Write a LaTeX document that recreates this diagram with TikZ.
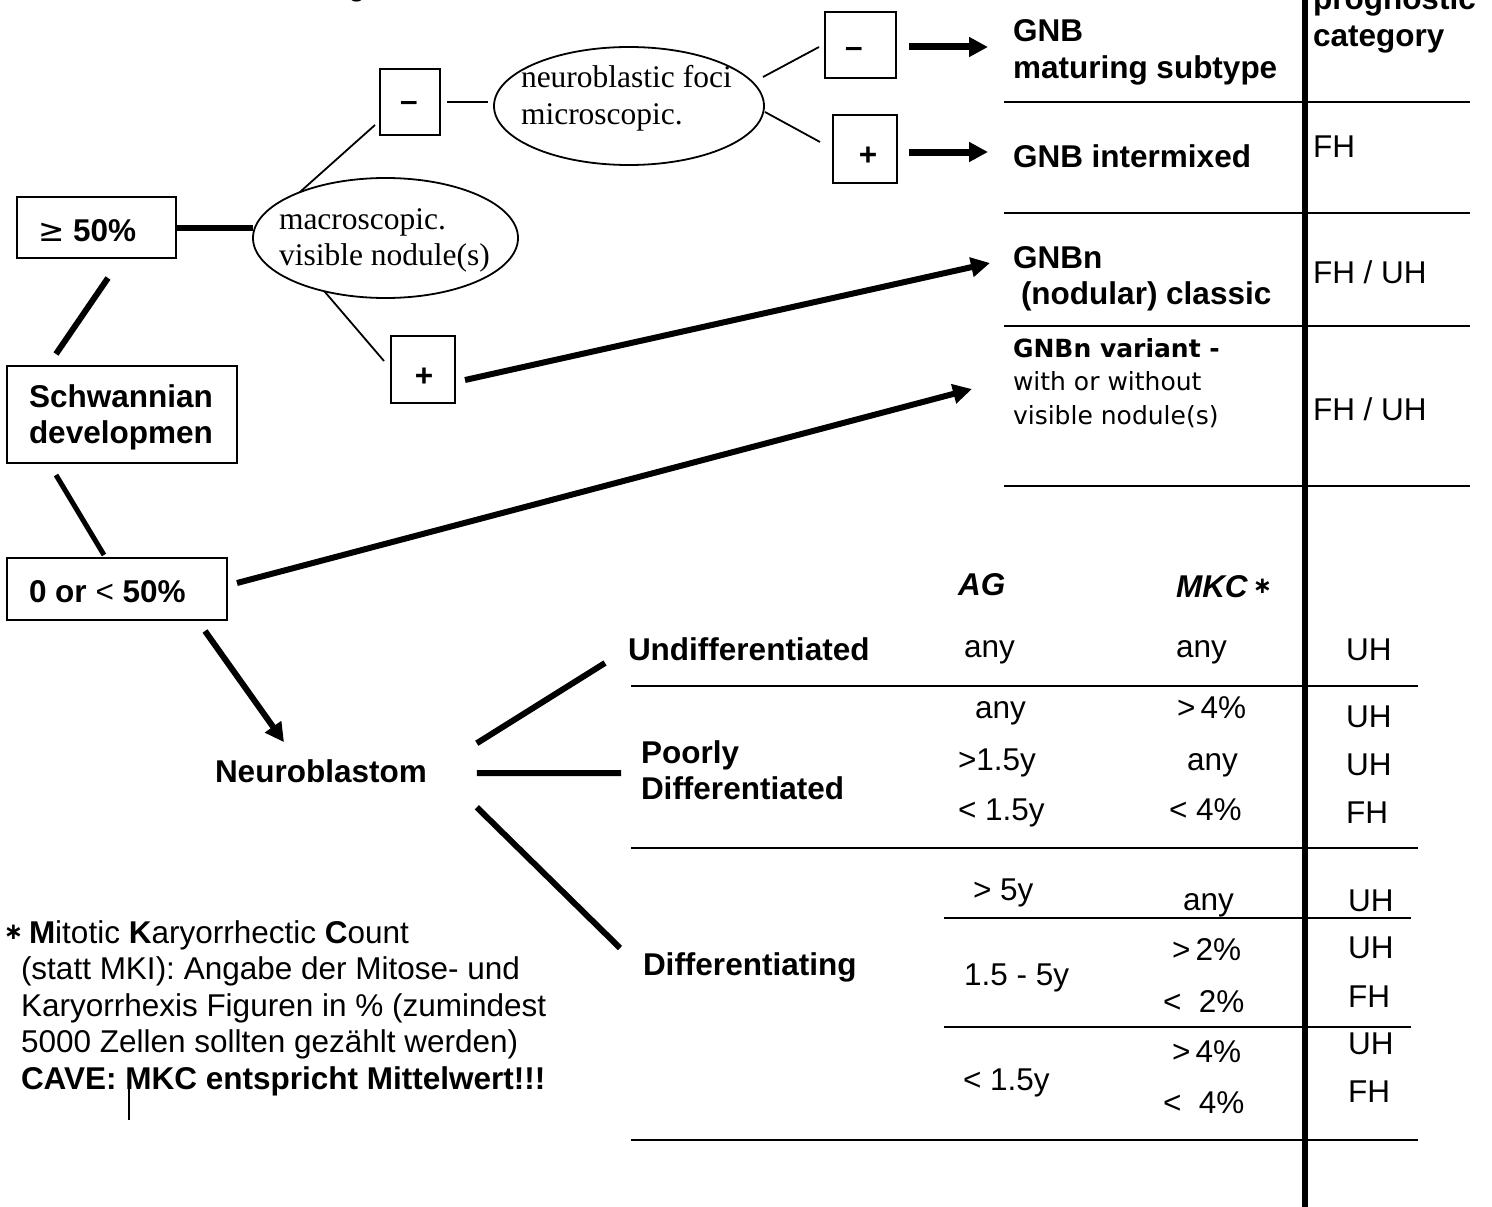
\documentclass[tikz,border=0pt]{standalone}
\usepackage{fontspec}
\setmainfont{Liberation Sans}
\newfontfamily\tnrfont{Liberation Serif}
\newfontfamily\comicfont{DejaVu Sans}
\newfontfamily\starfont{DejaVu Sans}
\usetikzlibrary{shapes.geometric,arrows.meta}
\newcommand\fsz{\fontsize{31.5}{36.5}\selectfont}
\newcommand\csz{\fontsize{25}{33.5}\selectfont}
\newcommand\mlines[1]{\begin{tabular}[t]{@{}l@{}}#1\end{tabular}}
\newcommand\smallstar{\raisebox{3.5pt}{\fontsize{23}{25}\selectfont\bfseries\upshape\starfont ∗}}
\begin{document}
\begin{tikzpicture}[x=1pt,y=-1pt,
  every node/.style={font=\fsz,inner sep=0pt,outer sep=0pt},
  bold/.style={font=\fsz\bfseries},
  tnr/.style={font=\fsz\tnrfont},
  boxx/.style={draw,line width=2.2pt,rectangle},
  oval/.style={draw,line width=1.8pt,ellipse},
  fine/.style={line width=1.8pt},
  heavy/.style={line width=6pt},
  arr/.style={line width=6pt,-{Triangle[length=19pt,width=19pt]}},
  rulel/.style={line width=2.5pt},
  txt/.style={anchor=base west}]
\fill[white] (0,0) rectangle (1492,1207);
\useasboundingbox (0,0) rectangle (1492,1207);

% cut-off fragment at the top
\node[txt] (gfrag) at (348,-4) {g};

% left column boxes
\node[boxx,minimum width=159pt,minimum height=61pt] (ge50) at (96.5,227.5) {};
\node[bold,txt] (ge50t) at (38,241) {{\mdseries\starfont ≥} 50\%};
\node[boxx,minimum width=230pt,minimum height=97pt] (schw) at (122,414.5) {};
\node[bold,txt] (schwt) at (29,407) {\mlines{Schwannian\\developmen}};
\node[boxx,minimum width=220pt,minimum height=62pt] (lt50) at (117,589) {};
\node[bold,txt] (lt50t) at (29,602) {0 or {\mdseries <} 50\%};

% ellipses
\node[oval,minimum width=265pt,minimum height=120pt] (e1) at (385.5,238) {};
\node[tnr,txt] (e1t) at (279,229) {\mlines{macroscopic.\\visible nodule(s)}};
\node[oval,minimum width=270pt,minimum height=118pt] (e2) at (629,106) {};
\node[tnr,txt] (e2t) at (521,88) {\mlines{neuroblastic foci\\microscopic.}};

% small sign boxes
\node[boxx,minimum width=60pt,minimum height=66pt] (m1) at (410,102) {};
\node[bold] (m1t) at (409,106) {–};
\node[boxx,minimum width=64pt,minimum height=67pt] (p1) at (423,369.5) {};
\node[bold] (p1t) at (424,377) {+};
\node[boxx,minimum width=71pt,minimum height=66pt] (m2) at (860.5,45) {};
\node[bold] (m2t) at (854,52) {–};
\node[boxx,minimum width=64pt,minimum height=68pt] (p2) at (865,149) {};
\node[bold] (p2t) at (868,156) {+};

% right column (upper)
\node[bold,txt] (prog) at (1313,10) {\mlines{prognostic\\category}};
\node[bold,txt] (gnbm) at (1013,42) {\mlines{GNB\\maturing subtype}};
\node[bold,txt] (gnbi) at (1013,167) {GNB intermixed};
\node[txt] (fh1) at (1313,157) {FH};
\node[bold,txt] (gnbn) at (1013,268) {\mlines{GNBn\\\hspace*{8pt}(nodular) classic}};
\node[txt] (fhuh1) at (1313,283) {FH / UH};
\node[txt,font=\csz\comicfont] (var) at (1013,357) {\mlines{\textbf{GNBn variant -}\\with or without\\visible nodule(s)}};
\node[txt] (fhuh2) at (1313,420) {FH / UH};

\draw[rulel] (1004,102) -- (1470,102);
\draw[rulel] (1004,213) -- (1470,213);
\draw[rulel] (1004,326) -- (1470,326);
\draw[rulel] (1004,486) -- (1470,486);
\draw[line width=5.5pt] (1305,0) -- (1305,1207);

% lower table
\node[txt,font=\fsz\bfseries\itshape] (ag) at (958,595) {AG};
\node[txt,font=\fsz\bfseries\itshape] (mkc) at (1176,597) {MKC\,\smallstar};
\node[bold,txt] (nb) at (215,782) {Neuroblastom};
\node[bold,txt] (undiff) at (628,660) {Undifferentiated};
\node[bold,txt] (poorly) at (641,763) {\mlines{Poorly\\Differentiated}};
\node[bold,txt] (diff) at (643,975) {Differentiating};

\node[txt] (u1) at (964,657) {any};
\node[txt] (u2) at (1176,657) {any};
\node[txt] (u3) at (1346,660) {UH};
\draw[rulel] (631,686) -- (1418,686);
\node[txt] (pa1) at (975,718) {any};
\node[txt] (pa2) at (1177,718) {>\,4\%};
\node[txt] (pa3) at (1346,727) {UH};
\node[txt] (pb1) at (958,770) {>1.5y};
\node[txt] (pb2) at (1187,770) {any};
\node[txt] (pb3) at (1346,775) {UH};
\node[txt] (pc1) at (958,820) {< 1.5y};
\node[txt] (pc2) at (1169,820) {< 4\%};
\node[txt] (pc3) at (1346,823) {FH};
\draw[rulel] (631,848) -- (1418,848);
\node[txt] (da1) at (973,900) {> 5y};
\node[txt] (da2) at (1183,910) {any};
\node[txt] (da3) at (1348,911) {UH};
\draw[rulel] (944,918) -- (1411,918);
\node[txt] (db2) at (1172,960) {>\,2\%};
\node[txt] (db3) at (1348,958) {UH};
\node[txt] (db1) at (964,985) {1.5 - 5y};
\node[txt] (dc2) at (1163,1012) {<\ \ 2\%};
\node[txt] (dc3) at (1348,1007) {FH};
\draw[rulel] (944,1027) -- (1411,1027);
\node[txt] (dd3) at (1348,1054) {UH};
\node[txt] (dd2) at (1172,1062) {>\,4\%};
\node[txt] (dd1) at (963,1090) {< 1.5y};
\node[txt] (de3) at (1348,1102) {FH};
\node[txt] (de2) at (1163,1113) {<\ \ 4\%};
\draw[rulel] (631,1140) -- (1418,1140);

% footnote
\node[txt] (note) at (4,943) {\mlines{\makebox[25pt][l]{\smallstar}\textbf{M}itotic \textbf{K}aryorrhectic \textbf{C}ount\\
\hspace*{17pt}(statt MKI): Angabe der Mitose- und\\
\hspace*{17pt}Karyorrhexis Figuren in \% (zumindest\\
\hspace*{17pt}5000 Zellen sollten gezählt werden)\\
\hspace*{17pt}\textbf{CAVE: MKC entspricht Mittelwert!!!}}};
\draw[line width=1.5pt] (129,1073) -- (129,1120);

% connector end points
\coordinate (gnbin1) at (988,47);
\coordinate (gnbin2) at (988,152);
\coordinate (gnbnin) at (990,263);
\coordinate (varin) at (972,389);
\coordinate (undin) at (605,663);
\coordinate (poorin) at (621,773);
\coordinate (diffin) at (620,948);

% connectors
\draw[heavy] (ge50.east) -- (ge50.east -| e1.west);
\draw[fine] (e1.152) -- ([shift={(-5,-10)}]m1.south west);
\draw[fine] ([xshift=7pt]m1.east) -- ([shift={(-6,-4)}]e2.west);
\draw[fine] ([shift={(-1,-29)}]e2.east) -- ([shift={(-6,2)}]m2.west);
\draw[fine] ([shift={(1,6)}]e2.east) -- ([shift={(-13,-7)}]p2.west);
\draw[arr,line width=7pt] ([shift={(13,2)}]m2.east) -- (gnbin1);
\draw[arr,line width=7pt] ([shift={(12,3)}]p2.east) -- (gnbin2);
\draw[fine] (e1.221) -- ([shift={(-7,25)}]p1.north west);
\draw[arr] ([shift={(10,10.5)}]p1.east) -- (gnbnin);
\draw[heavy] ([shift={(11.5,20)}]ge50.south) -- ([shift={(-66,-12)}]schw.north);
\draw[line width=5pt] ([shift={(-66,12)}]schw.south) -- ([shift={(-13,-3)}]lt50.north);
\draw[arr] ([shift={(10,-6)}]lt50.east) -- (varin);
\draw[arr] ([shift={(88,11)}]lt50.south) -- ([shift={(69,-17)}]nb.north west);
\draw[heavy] ([shift={(50,-27.5)}]nb.east) -- (undin);
\draw[heavy] ([shift={(50,2.5)}]nb.east) -- (poorin);
\draw[heavy] ([shift={(50,36.5)}]nb.east) -- (diffin);
\end{tikzpicture}
\end{document}
